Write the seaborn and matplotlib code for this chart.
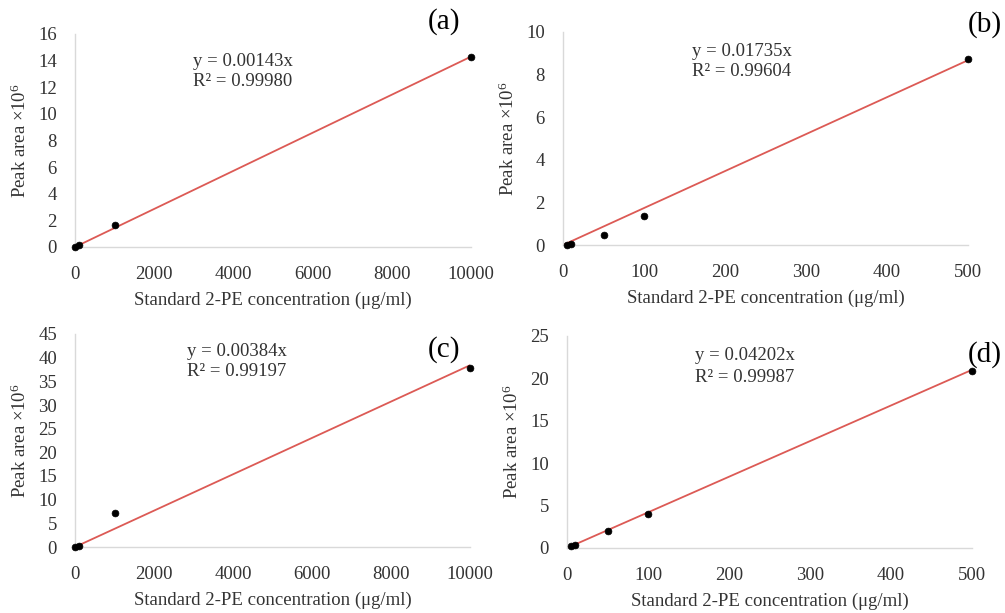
import matplotlib
matplotlib.use("Agg")
import matplotlib.pyplot as plt
import seaborn as sns
import numpy as np
import pandas as pd

# ---- data ----
x_a = [10, 100, 1000, 10000]
y_a = [0.01, 0.14, 1.63, 14.3]
slope_a = 0.00143
r2_a = "0.99980"

x_b = [5, 10, 50, 100, 500]
y_b = [0.02, 0.05, 0.47, 1.36, 8.75]
slope_b = 0.01735
r2_b = "0.99604"

x_c = [10, 100, 1000, 10000]
y_c = [0.03, 0.2, 7.2, 37.8]
slope_c = 0.00384
r2_c = "0.99197"

x_d = [5, 10, 50, 100, 500]
y_d = [0.2, 0.4, 2.04, 4.05, 20.9]
slope_d = 0.04202
r2_d = "0.99987"

panel_labels = ["(a)", "(b)", "(c)", "(d)"]
xlabel = "Standard 2-PE concentration (\u03bcg/ml)"
ylabel = "Peak area \u00d710$^{6}$"

sns.set_theme(style="white")
plt.rcParams["font.family"] = ["Liberation Serif", "DejaVu Serif"]
plt.rcParams["mathtext.fontset"] = "custom"
plt.rcParams["mathtext.rm"] = "Liberation Serif"
plt.rcParams["mathtext.it"] = "Liberation Serif:italic"

W, H = 1005, 613
fig = plt.figure(figsize=(W / 100, H / 100), dpi=100)

def rect(l, r, b, t):
    return [l / W, 1 - b / H, (r - l) / W, (b - t) / H]

panels = [
    dict(x=x_a, y=y_a, s=slope_a, r2=r2_a, rect=rect(75, 471, 247, 34),
         xlim=(0, 10000), xt=[0, 2000, 4000, 6000, 8000, 10000],
         ylim=(0, 16), yt=list(range(0, 17, 2)),
         eq=(243, 61), lab=(444, 22)),
    dict(x=x_b, y=y_b, s=slope_b, r2=r2_b, rect=rect(563, 968, 245, 32),
         xlim=(0, 500), xt=[0, 100, 200, 300, 400, 500],
         ylim=(0, 10), yt=list(range(0, 11, 2)),
         eq=(742, 51), lab=(985, 25)),
    dict(x=x_c, y=y_c, s=slope_c, r2=r2_c, rect=rect(75, 470, 547, 334),
         xlim=(0, 10000), xt=[0, 2000, 4000, 6000, 8000, 10000],
         ylim=(0, 45), yt=list(range(0, 46, 5)),
         eq=(237, 351), lab=(444, 350)),
    dict(x=x_d, y=y_d, s=slope_d, r2=r2_d, rect=rect(567, 972, 548, 336),
         xlim=(0, 500), xt=[0, 100, 200, 300, 400, 500],
         ylim=(0, 25), yt=list(range(0, 26, 5)),
         eq=(745, 356), lab=(985, 355)),
]

fs = 13.5
for p, lab in zip(panels, panel_labels):
    ax = fig.add_axes(p["rect"])
    df = pd.DataFrame({"x": p["x"], "y": p["y"]})
    xmax = max(p["x"])
    line = pd.DataFrame({"x": [0, xmax], "y": [0, p["s"] * xmax]})
    sns.lineplot(data=line, x="x", y="y", ax=ax, color="#dc5a55", lw=1.3, zorder=2)
    sns.scatterplot(data=df, x="x", y="y", ax=ax, color="black", s=24,
                    edgecolor="black", linewidth=0.5, zorder=3, clip_on=False)
    ax.set_xlim(*p["xlim"])
    ax.set_ylim(*p["ylim"])
    ax.set_xticks(p["xt"])
    ax.set_yticks(p["yt"])
    ax.tick_params(length=0, labelsize=fs, colors="#333333")
    ax.tick_params(axis="x", pad=14)
    ax.tick_params(axis="y", pad=13)
    for sp in ["top", "right"]:
        ax.spines[sp].set_visible(False)
    for sp in ["left", "bottom"]:
        ax.spines[sp].set_color("#d9d9d9")
        ax.spines[sp].set_linewidth(1.0)
    ax.set_xlabel(xlabel, fontsize=fs, color="#333333", labelpad=6)
    ax.set_ylabel(ylabel, fontsize=fs, color="#333333", labelpad=6)
    ax.grid(False)
    ex, ey = p["eq"]
    fig.text(ex / W, 1 - ey / H, f"y = {p['s']:.5f}x", ha="center", va="center",
             fontsize=fs, color="#333333")
    fig.text(ex / W, 1 - (ey + 21) / H, f"R\u00b2 = {p['r2']}", ha="center", va="center",
             fontsize=fs, color="#333333")
    lx, ly = p["lab"]
    fig.text(lx / W, 1 - ly / H, lab, ha="center", va="center", fontsize=21, color="black")

fig.savefig("out.png", dpi=100)
